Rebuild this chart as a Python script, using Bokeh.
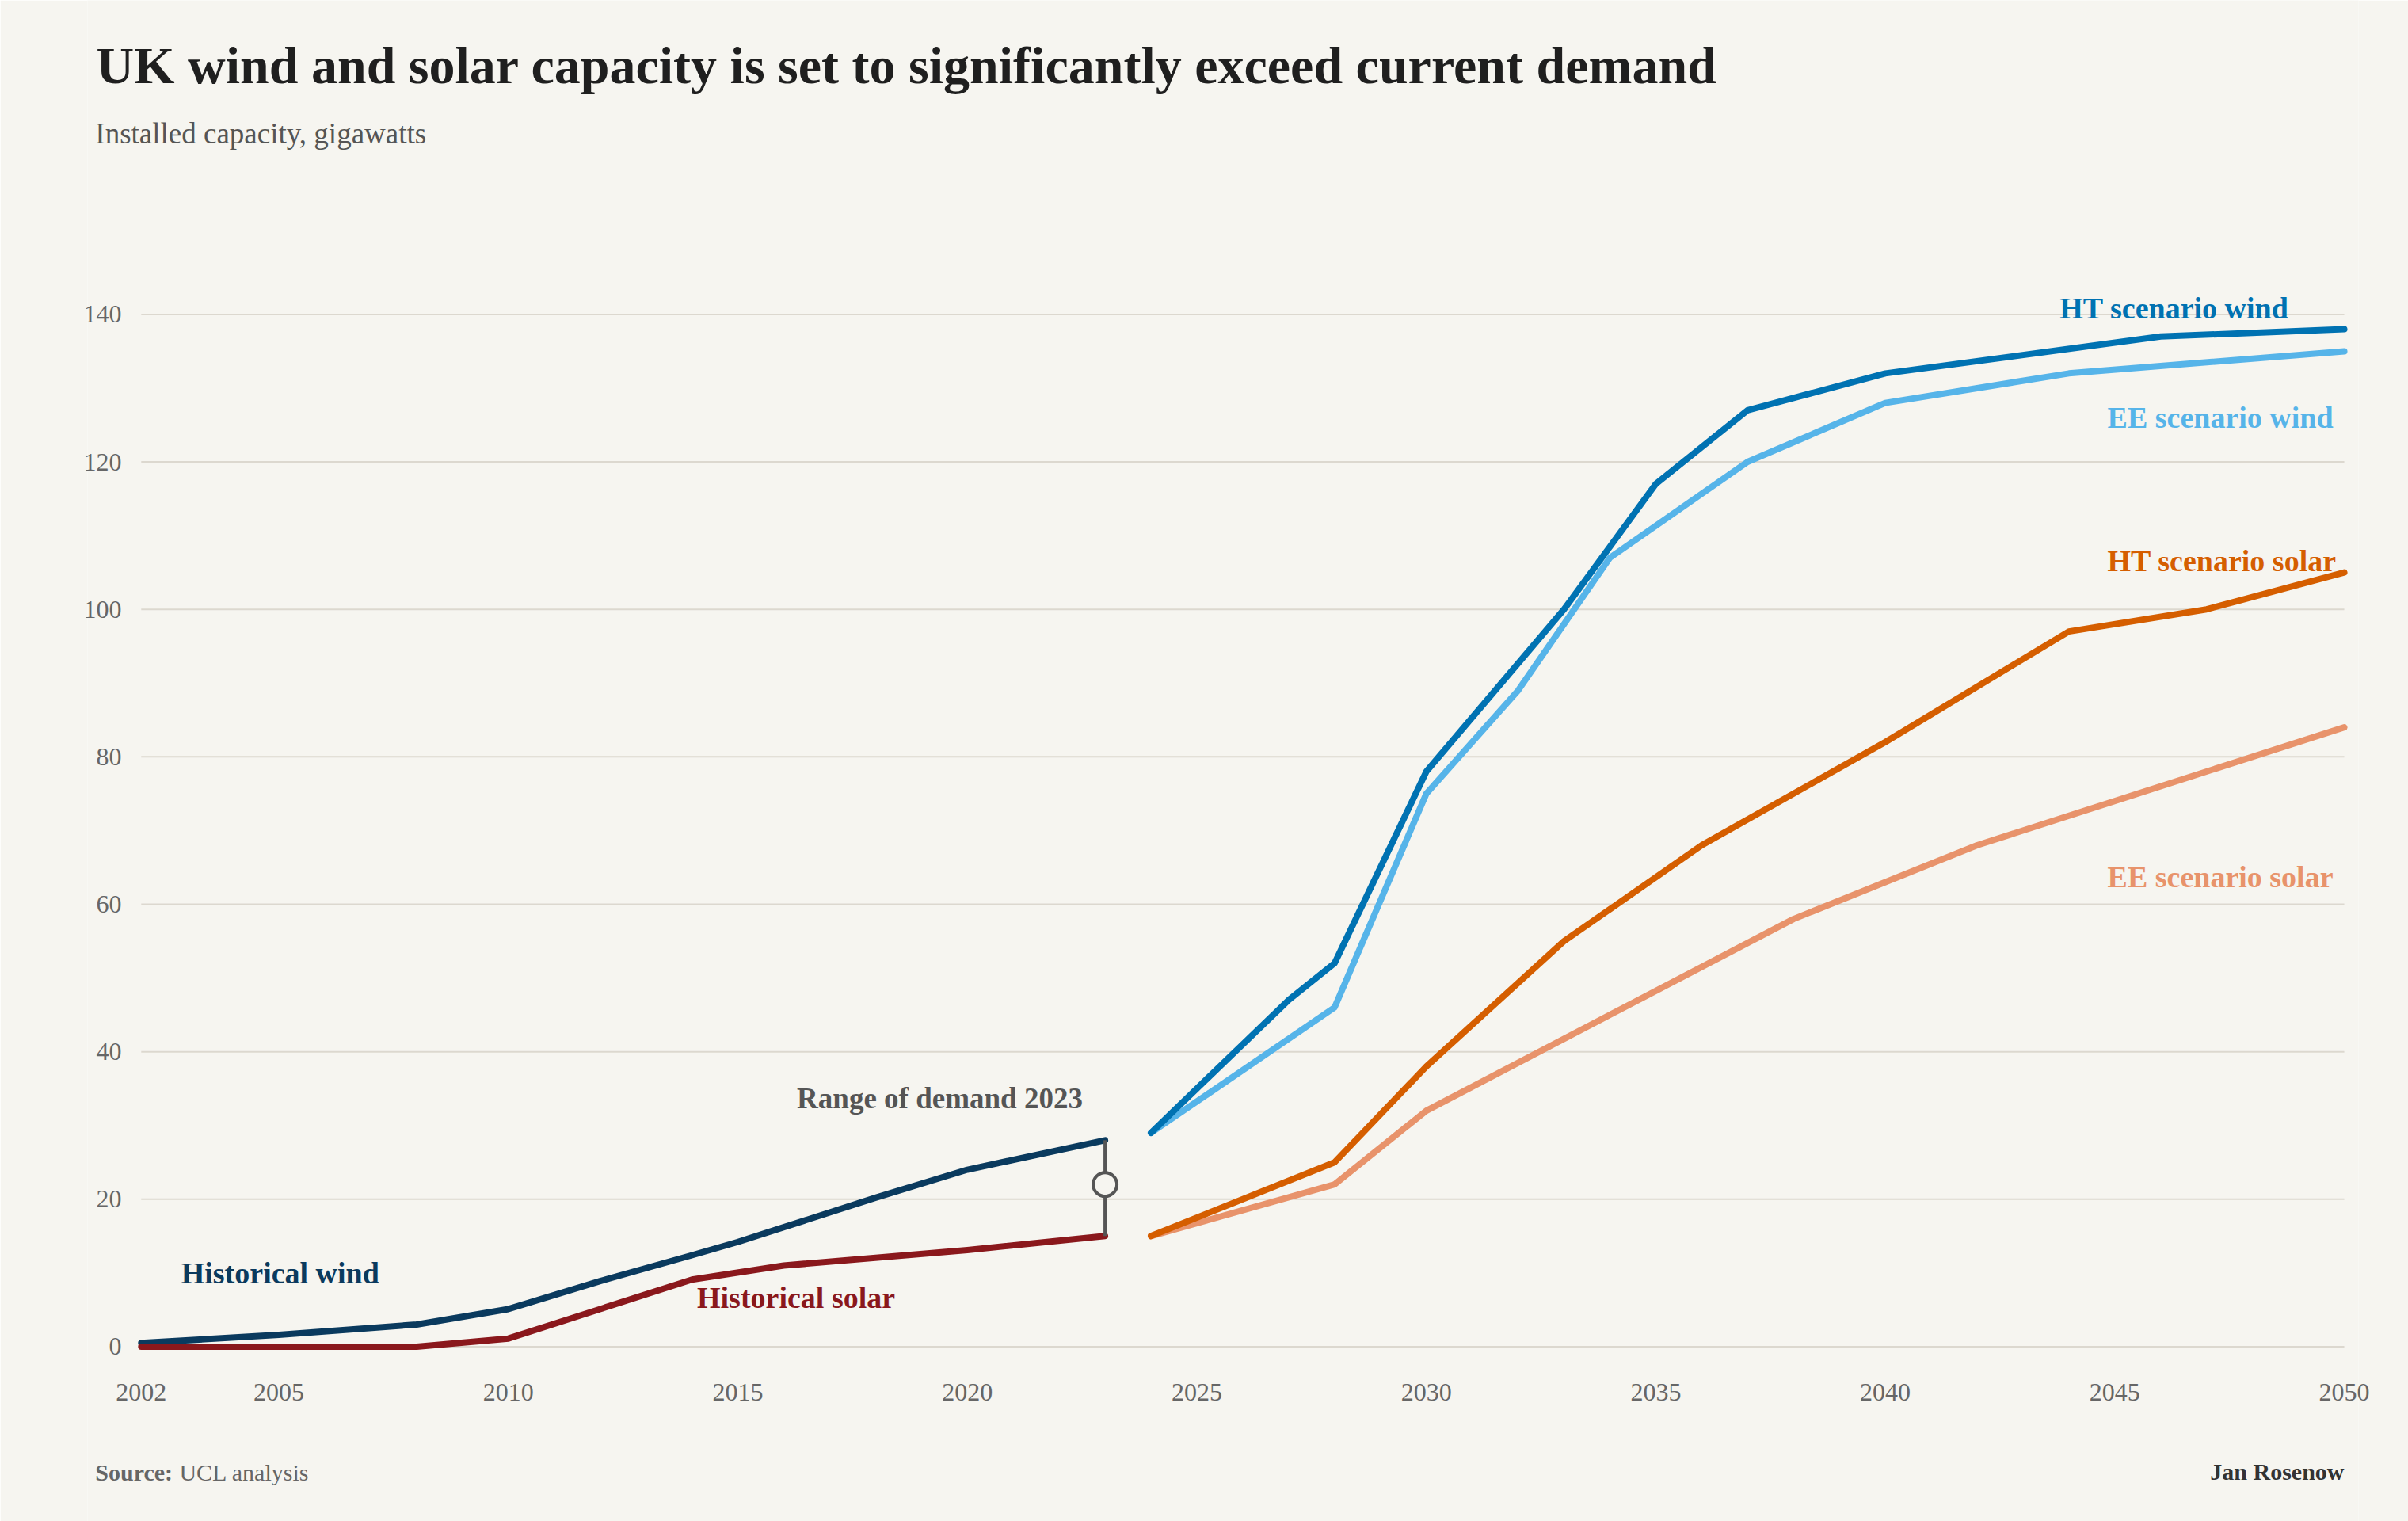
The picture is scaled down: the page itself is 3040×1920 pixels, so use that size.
from bokeh.plotting import figure
from bokeh.models import Range1d, FixedTicker, Label
from bokeh.embed import file_html
from bokeh.resources import INLINE

# historical capacity (GW)
hist_wind_years = [2002, 2005, 2008, 2010, 2012, 2014, 2015, 2016, 2018, 2020, 2023]
hist_wind = [0.5, 1.6, 3.0, 5.1, 8.9, 12.4, 14.2, 16.2, 20.2, 24.0, 28.0]
hist_solar_years = [2002, 2008, 2010, 2012, 2014, 2016, 2020, 2023]
hist_solar = [0.0, 0.0, 1.1, 5.1, 9.1, 11.0, 13.1, 15.0]

# scenarios (GW)
ht_wind_years = [2024, 2027, 2028, 2030, 2033, 2035, 2037, 2040, 2046, 2050]
ht_wind = [29, 47, 52, 78, 100, 117, 127, 132, 137, 138]
ee_wind_years = [2024, 2028, 2030, 2032, 2034, 2037, 2040, 2044, 2050]
ee_wind = [29, 46, 75, 89, 107, 120, 128, 132, 135]
ht_solar_years = [2024, 2028, 2030, 2033, 2036, 2040, 2044, 2047, 2050]
ht_solar = [15, 25, 38, 55, 68, 82, 97, 100, 105]
ee_solar_years = [2024, 2028, 2030, 2038, 2042, 2050]
ee_solar = [15, 22, 32, 58, 68, 84]

# demand range 2023
demand_year = 2023
demand_low, demand_mid, demand_high = 15, 22, 28

x_ticks = [2002, 2005, 2010, 2015, 2020, 2025, 2030, 2035, 2040, 2045, 2050]
y_ticks = [0, 20, 40, 60, 80, 100, 120, 140]

TITLE = "UK wind and solar capacity is set to significantly exceed current demand"
SUBTITLE = "Installed capacity, gigawatts"

BG = "#f6f5f0"
GRID = "#dcd8cf"
FONT = "Liberation Serif"
NAVY = "#0a3a5e"
DARKRED = "#8a181c"
HT_WIND = "#0072b2"
EE_WIND = "#56b4e9"
HT_SOLAR = "#d55e00"
EE_SOLAR = "#e8936b"
GREY = "#555555"

# the frame fills the page; header and footer sit inside it as labels,
# the axes are pulled inwards with negative standoffs
p = figure(width=3040, height=1920, title=None,
           x_range=Range1d(2000.83, 2050.31), y_range=Range1d(-23.70, 182.59),
           output_backend="svg", toolbar_location=None,
           min_border_left=110, min_border_right=63,
           min_border_top=0, min_border_bottom=0,
           background_fill_color=BG, border_fill_color=BG,
           outline_line_color=None)
p.grid.visible = False

for ax in (p.xaxis, p.yaxis):
    ax.axis_line_color = None
    ax.major_tick_line_color = None
    ax.minor_tick_line_color = None
    ax.major_label_text_font = FONT
    ax.major_label_text_font_size = "32px"
    ax.major_label_text_color = "#666666"
p.xaxis.ticker = FixedTicker(ticks=x_ticks)
p.yaxis.ticker = FixedTicker(ticks=y_ticks)
p.xaxis.major_label_standoff = -180
p.yaxis.major_label_standoff = -49

# gridlines only across the data span
p.segment(x0=[x_ticks[0]] * len(y_ticks), x1=[x_ticks[-1]] * len(y_ticks),
          y0=y_ticks, y1=y_ticks, line_color=GRID, line_width=2)

series = [
    (hist_wind_years, hist_wind, NAVY),
    (hist_solar_years, hist_solar, DARKRED),
    (ee_wind_years, ee_wind, EE_WIND),
    (ht_wind_years, ht_wind, HT_WIND),
    (ee_solar_years, ee_solar, EE_SOLAR),
    (ht_solar_years, ht_solar, HT_SOLAR),
]
for xs, ys, col in series:
    p.line(xs, ys, line_color=col, line_width=8, line_cap="round", line_join="round")

p.segment(x0=[demand_year], x1=[demand_year], y0=[demand_low], y1=[demand_high],
          line_color=GREY, line_width=4)
p.scatter([demand_year], [demand_mid], marker="circle", size=30,
          fill_color=BG, line_color=GREY, line_width=4)


def text(x, y, txt, size, color, style="normal", align="left"):
    p.add_layout(Label(x=x, y=y, text=txt, text_font=FONT, text_font_size=size,
                       text_font_style=style, text_color=color, text_align=align,
                       text_baseline="alphabetic"))


# header
text(2001.02, 173.8, TITLE, "66px", "#1f1f1f", style="bold")
text(2001.0, 164.55, SUBTITLE, "37px", "#555555")

# series labels
text(2002.87, 10.0, "Historical wind", "38px", NAVY, style="bold")
text(2014.11, 6.7, "Historical solar", "38px", DARKRED, style="bold")
text(2019.4, 33.7, "Range of demand 2023", "37px", GREY, style="bold", align="center")
text(2043.8, 140.9, "HT scenario wind", "38px", HT_WIND, style="bold")
text(2044.84, 126.0, "EE scenario wind", "38px", EE_WIND, style="bold")
text(2044.84, 106.6, "HT scenario solar", "38px", HT_SOLAR, style="bold")
text(2044.84, 63.7, "EE scenario solar", "38px", EE_SOLAR, style="bold")

# footer
text(2001.0, -17.0, "Source:", "30px", "#666666", style="bold")
text(2002.83, -17.0, "UCL analysis", "30px", "#666666")
text(2050.0, -16.9, "Jan Rosenow", "30px", "#333333", style="bold", align="right")

open("out.html", "w").write(file_html(p, INLINE))
